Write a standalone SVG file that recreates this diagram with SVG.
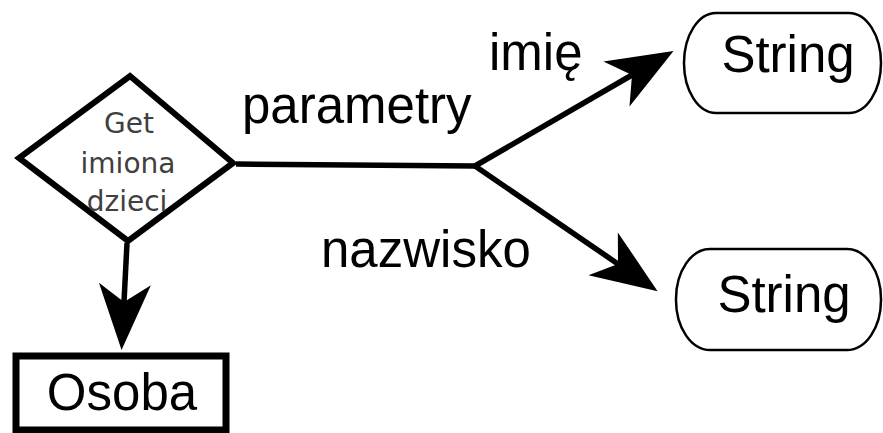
<svg xmlns="http://www.w3.org/2000/svg" width="883" height="433" viewBox="0 0 883 433">
  <style>
    .label { font-family: "Liberation Sans", Arial, sans-serif; font-size: 51px; fill: #000; }
    .small { font-family: "DejaVu Sans", sans-serif; font-size: 28px; fill: #404040; text-anchor: middle; }
    .edge { fill: none; stroke: #000; stroke-width: 5.5; }
    .pill { fill: #fff; stroke: #000; stroke-width: 2.5; }
  </style>
  <defs>
    <!-- filled barbed arrowhead; reference point sits at the notch where the line ends -->
    <marker id="head" markerUnits="userSpaceOnUse" orient="auto" refX="0" refY="0"
            viewBox="-20 -27 70 54" markerWidth="70" markerHeight="54" overflow="visible">
      <path d="M48,0 L-18,-26 L0,0 L-18,26 Z" fill="#000"/>
    </marker>
  </defs>
  <rect width="883" height="433" fill="#fff"/>

  <!-- connectors -->
  <g id="connectors">
    <path class="edge" d="M236,164 L475,166"/>
    <path class="edge" d="M475,166 L632,75" marker-end="url(#head)"/>
    <path class="edge" d="M475,166 L618,264" marker-end="url(#head)"/>
    <path class="edge" d="M127,243 L124,302" marker-end="url(#head)"/>
    <text class="label" x="242" y="123">parametry</text>
    <text class="label" x="489" y="70">imię</text>
    <text class="label" x="321" y="267">nazwisko</text>
  </g>

  <!-- decision node -->
  <g id="get-imiona-dzieci">
    <path d="M130,76 L233,163 L128,241 L19,158 Z" fill="#fff" stroke="#000" stroke-width="6" stroke-linejoin="miter"/>
    <text class="small" x="129" y="133">Get</text>
    <text class="small" x="128" y="173">imiona</text>
    <text class="small" x="127" y="211">dzieci</text>
  </g>

  <!-- result node -->
  <g id="osoba">
    <rect x="16" y="356" width="210" height="74" fill="#fff" stroke="#000" stroke-width="7"/>
    <text class="label" x="122" y="410" text-anchor="middle">Osoba</text>
  </g>

  <!-- parameter type nodes -->
  <g id="string-imie">
    <rect class="pill" x="684" y="13" width="197" height="100" rx="32" ry="50"/>
    <text class="label" x="788" y="72" text-anchor="middle">String</text>
  </g>
  <g id="string-nazwisko">
    <rect class="pill" x="676" y="249" width="205" height="101" rx="34" ry="50"/>
    <text class="label" x="784" y="312" text-anchor="middle">String</text>
  </g>
</svg>
